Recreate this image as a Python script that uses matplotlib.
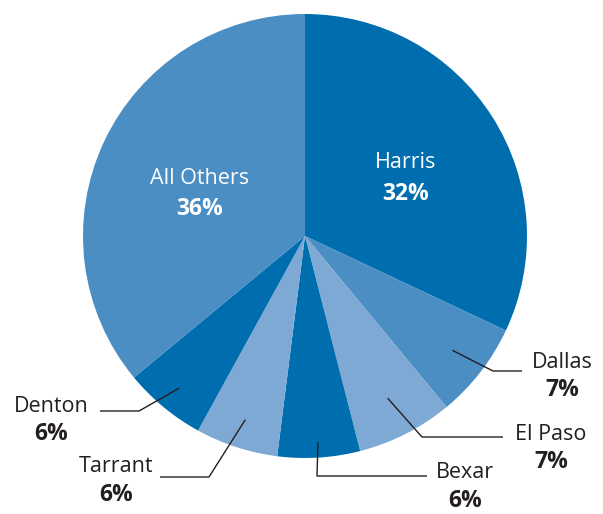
import numpy as np
import matplotlib.pyplot as plt

plt.rcParams['font.family'] = ['Open Sans', 'DejaVu Sans']

# County share of the total
counties = ['Harris', 'Dallas', 'El Paso', 'Bexar', 'Tarrant', 'Denton', 'All Others']
shares = [32, 7, 7, 6, 6, 6, 36]

dark = '#006eae'
mid = '#4a8ec4'
light = '#7ea9d4'
colors = [dark, mid, light, dark, light, dark, mid]

W, H = 603, 514
cx, cy, R = 305, H - 236, 222

fig = plt.figure(figsize=(W / 100, H / 100), dpi=100)
ax = fig.add_axes([0, 0, 1, 1])

wedges, _ = ax.pie(shares, colors=colors, startangle=90, counterclock=False,
                   radius=R, center=(cx, cy), wedgeprops=dict(linewidth=0))
ax.set_xlim(0, W)
ax.set_ylim(0, H)
ax.set_aspect('equal')
ax.axis('off')

txt = '#231f20'
fs = 15.5
fs_pct = 16.5

# labels inside the two big slices (white)
inside = {'Harris': (406, 163), 'All Others': (200, 178)}
for name, (x, y) in inside.items():
    i = counties.index(name)
    ax.text(x, H - y, name, color='white', fontsize=fs, ha='center', va='center')
    ax.text(x, H - y - 31, f'{shares[i]}%', color='white', fontsize=fs_pct,
            fontweight='bold', ha='center', va='center')

# outside labels with leader lines: (radius fraction, bend, end, text center)
outside = {
    'Dallas':  (0.84, (493, 371), (522, 371), (562, 362)),
    'El Paso': (0.82, (422, 437), (503, 437), (551, 434)),
    'Bexar':   (0.93, (317, 476), (427, 476), (465, 473)),
    'Tarrant': (0.87, (209, 477), (160, 477), (116, 467)),
    'Denton':  (0.89, (139, 411), (100, 411), (51, 406)),
}
for name, (frac, bend, end, tpos) in outside.items():
    w = wedges[counties.index(name)]
    ang = np.deg2rad((w.theta1 + w.theta2) / 2)
    sx = cx + frac * R * np.cos(ang)
    sy = cy + frac * R * np.sin(ang)
    ax.plot([sx, bend[0], end[0]], [sy, H - bend[1], H - end[1]],
            color=txt, lw=1.0, solid_capstyle='butt')
    ax.text(tpos[0], H - tpos[1], name, color=txt, fontsize=fs,
            ha='center', va='center')
    ax.text(tpos[0], H - tpos[1] - 28, f'{shares[counties.index(name)]}%',
            color=txt, fontsize=fs_pct, fontweight='bold', ha='center', va='center')

fig.savefig('out.png', dpi=100)
